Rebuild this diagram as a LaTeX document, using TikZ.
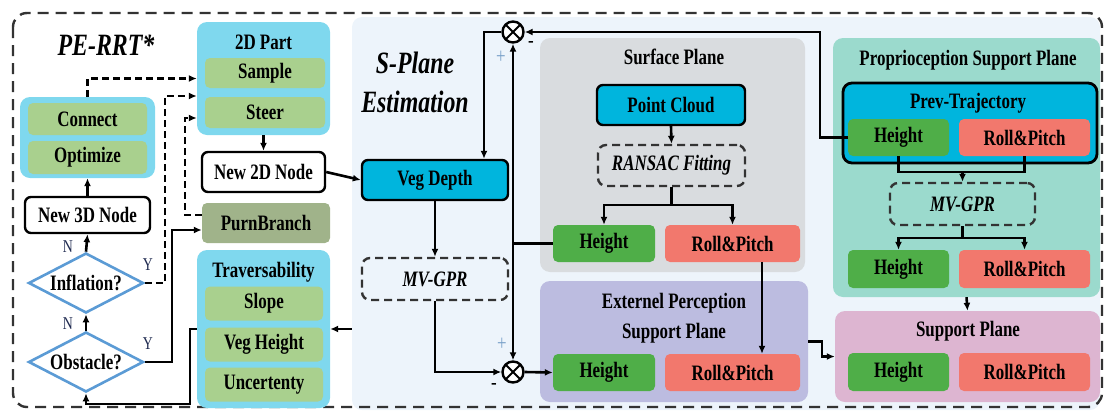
\documentclass[tikz,border=0pt]{standalone}
\usepackage{fontspec}
\setmainfont{Liberation Serif}[FakeStretch=0.77]
\usetikzlibrary{arrows.meta,shapes.geometric}
\definecolor{cyanbg}{RGB}{127,216,238}
\definecolor{sage}{RGB}{169,208,142}
\definecolor{olive}{RGB}{160,179,138}
\definecolor{condblue}{RGB}{91,155,213}
\definecolor{deep}{RGB}{0,181,221}
\definecolor{hgreen}{RGB}{79,174,72}
\definecolor{salmon}{RGB}{242,120,109}
\definecolor{splanebg}{RGB}{237,244,251}
\definecolor{surfgrey}{RGB}{217,220,223}
\definecolor{extpurple}{RGB}{188,188,224}
\definecolor{propteal}{RGB}{155,218,205}
\definecolor{suppink}{RGB}{221,181,209}
\definecolor{navy}{RGB}{31,42,80}
\definecolor{signblue}{RGB}{120,160,200}
\begin{document}
\begin{tikzpicture}[x=1pt,y=-1pt,
  >={Latex[length=8pt,width=7pt]},
  every node/.style={font=\bfseries\fontsize{22}{24}\selectfont},
  panel/.style={fill=#1,rounded corners=10pt,inner sep=0pt},
  cell/.style={fill=#1,rounded corners=5pt,inner sep=0pt},
  blk/.style={draw,line width=2.4pt,fill=#1,rounded corners=6pt,inner sep=0pt},
  dbox/.style={draw=black!80,line width=2.4pt,dash pattern=on 8pt off 5pt,rounded corners=8pt,inner sep=0pt,font=\bfseries\itshape\fontsize{22}{24}\selectfont},
  cond/.style={diamond,shape aspect=1.9,draw=condblue,line width=2.6pt,fill=white,inner sep=0pt,minimum width=115,minimum height=60},
  mix/.style={circle,draw,line width=2.4pt,fill=white,minimum size=21pt,inner sep=0pt,
    path picture={\draw[line width=2pt] (path picture bounding box.north west) -- (path picture bounding box.south east)
      (path picture bounding box.north east) -- (path picture bounding box.south west);}},
  flow/.style={line width=2.6pt},
  hop/.style={line width=2.6pt,dash pattern=on 7pt off 4pt},
  hint/.style={font=\fontsize{18}{19}\selectfont,text=navy},
  sign/.style={font=\fontsize{22}{24}\selectfont},
  headline/.style={font=\bfseries\itshape\fontsize{31}{33}\selectfont}
]
\useasboundingbox (0,0) rectangle (1107,410);

\node[panel=splanebg, minimum width=748, minimum height=393] (splane) at (726,213.5) {};
\draw[line width=2.4pt, draw=black!80, dash pattern=on 11pt off 7pt, rounded corners=14pt] (13,13) rectangle (1102,407);

\node[headline] (pe) at (106,45) {PE-RRT*};
\node[headline] (sp) at (415,63) {S-Plane};
\node[headline] (est) at (415,102) {Estimation};

% planner side
\node[panel=cyanbg, minimum width=133, minimum height=113] (part2d) at (263.5,78.5) {};
\node (part2d-t) at (263.5,42) {2D Part};
\node[cell=sage, minimum width=120, minimum height=30] (sample) at (265,73) {Sample};
\node[cell=sage, minimum width=120, minimum height=31] (steer) at (265,112.5) {Steer};
\node[blk=white, minimum width=123, minimum height=40] (new2d) at (263.5,172) {New 2D Node};
\node[cell=olive, minimum width=128, minimum height=40] (purn) at (266,223) {PurnBranch};
\node[panel=cyanbg, minimum width=133, minimum height=158] (trav) at (263.5,329) {};
\node (trav-t) at (263.5,272) {Traversability};
\foreach \y/\t [count=\i] in {303.5/Slope, 344.5/Veg Height, 384.5/Uncertenty}
  \node[cell=sage, minimum width=118, minimum height=34] (trav\i) at (264,\y) {\t};

\node[panel=cyanbg, minimum width=135, minimum height=81] (opt) at (87.5,137.5) {};
\node[cell=sage, minimum width=119, minimum height=32] (connect) at (87.5,119) {Connect};
\node[cell=sage, minimum width=119, minimum height=33] (optimize) at (87.5,157.5) {Optimize};
\node[blk=white, minimum width=125, minimum height=36] (new3d) at (87.5,215) {New 3D Node};
\node[cond] (inflation) at (86,283) {Inflation?};
\node[cond] (obstacle) at (86,362) {Obstacle?};
\node[hint] (n1) at (68,247) {N};
\node[hint] (n2) at (68,324) {N};
\node[hint] (y1) at (148,265) {Y};
\node[hint] (y2) at (148,344) {Y};

\draw[flow,->] (obstacle.north) -- (inflation.south);
\draw[flow,->] (inflation.north) -- (new3d.south);
\draw[flow,->] (new3d.north) -- (opt.south);
\draw[hop,->] (opt.north) |- (part2d.west);
\draw[hop,->] (inflation.east) -- (165,283) |- ([yshift=-17.5]part2d.west);
\draw[hop,->] ([yshift=8]purn.west) -- (185,215) |- ([yshift=-39.5]part2d.west);
\draw[flow,->] (obstacle.east) -- (172,362) |- ([yshift=-7]purn.west);
\draw[flow,->] (trav.west) -| (190,404) -| (obstacle.south);
\draw[flow,->] (part2d.south) -- (new2d.north);

% plane estimation side
\node[blk=deep, minimum width=146, minimum height=40] (vegdepth) at (435,180) {Veg Depth};
\node[dbox, minimum width=146, minimum height=42] (gpr1) at (435,279) {MV-GPR};
\node[mix] (mix1) at (513,32) {};
\node[mix] (mix2) at (513,372) {};
\node[sign, text=signblue] (p1) at (501,57) {+};
\node[sign] (m1) at (531,44) {-};
\node[sign, text=signblue] (p2) at (502,344) {+};
\node[sign] (m2) at (494,386) {-};

\node[panel=surfgrey, minimum width=265, minimum height=234] (surf) at (672.5,155) {};
\node (surf-t) at (674,57) {Surface Plane};
\node[blk=deep, minimum width=148, minimum height=40] (pc) at (671,105) {Point Cloud};
\node[dbox, minimum width=147, minimum height=41] (ransac) at (671.5,165.5) {RANSAC Fitting};
\node[cell=hgreen, minimum width=102, minimum height=37] (hs) at (604,243.5) {Height};
\node[cell=salmon, minimum width=135, minimum height=37] (rs) at (732.5,243.5) {Roll\&Pitch};

\node[panel=extpurple, minimum width=268, minimum height=121] (ext) at (674,341.5) {};
\node[align=center, font=\bfseries\fontsize{22}{30}\selectfont] (ext-t) at (674,318) {Externel Perception\\Support Plane};
\node[cell=hgreen, minimum width=102, minimum height=37] (he) at (604,372.5) {Height};
\node[cell=salmon, minimum width=135, minimum height=37] (re) at (732.5,372.5) {Roll\&Pitch};

\node[panel=propteal, minimum width=267, minimum height=259] (prop) at (966.5,167.5) {};
\node (prop-t) at (968,60) {Proprioception Support Plane};
\node[blk=deep, line width=2.8pt, minimum width=254, minimum height=80, rounded corners=9pt] (prev) at (970,123) {};
\node (prev-t) at (968,103) {Prev-Trajectory};
\node[cell=hgreen, minimum width=101, minimum height=37] (hp) at (898.5,137.5) {Height};
\node[cell=salmon, minimum width=131, minimum height=37] (rp) at (1024.5,137.5) {Roll\&Pitch};
\node[dbox, minimum width=145, minimum height=42] (gpr2) at (962.5,204) {MV-GPR};
\node[cell=hgreen, minimum width=101, minimum height=38] (hp2) at (898.5,269) {Height};
\node[cell=salmon, minimum width=131, minimum height=38] (rp2) at (1024.5,269) {Roll\&Pitch};

\node[panel=suppink, minimum width=265, minimum height=91] (sup) at (967.5,356.5) {};
\node (sup-t) at (968,331) {Support Plane};
\node[cell=hgreen, minimum width=101, minimum height=38] (hsp) at (898.5,372) {Height};
\node[cell=salmon, minimum width=131, minimum height=38] (rsp) at (1024.5,372) {Roll\&Pitch};

\coordinate (fork1) at (671.5,205);
\coordinate (join2) at (962.5,172);
\coordinate (fork2) at (962.5,238);
\coordinate (tap) at (513,243.5);

\draw[flow,->] (new2d.east) -- (vegdepth.west);
\draw[flow,->] (splane.west |- trav.east) -- (trav.east);
\draw[flow,->] (vegdepth.south) -- (gpr1.north);
\draw[flow,->] (mix1.west) -| ([xshift=49]vegdepth.north);
\draw[flow,->] (gpr1.south) |- (mix2.west);
\draw[line width=3.6pt] (hs.west) -- (tap);
\draw[flow,->] (tap) -- (mix1.south);
\draw[flow,->] (tap) -- (mix2.north);
\draw[flow,->] (mix2.east) -- (he.west);
\draw[flow,->] (hp.west) -- (820,137.5) |- (mix1.east);

\draw[flow,->] (pc.south) -- (ransac.north);
\draw[flow] (ransac.south) -- (fork1);
\draw[flow,->] (fork1) -| (hs.north);
\draw[flow,->] (fork1) -| (rs.north);
\draw[flow,->] ([xshift=29.5]rs.south) -- ([xshift=29.5]re.north);

\draw[flow] (hp.south) |- (join2) -| (rp.south);
\draw[flow,->] (join2) -- (gpr2.north);
\draw[flow] (gpr2.south) -- (fork2);
\draw[flow,->] (fork2) -| (hp2.north);
\draw[flow,->] (fork2) -| (rp2.north);
\draw[flow,->] (prop.south) -- (sup.north);
\draw[flow,->] (ext.east) -- (822,341.5) |- (sup.west);
\end{tikzpicture}
\end{document}
